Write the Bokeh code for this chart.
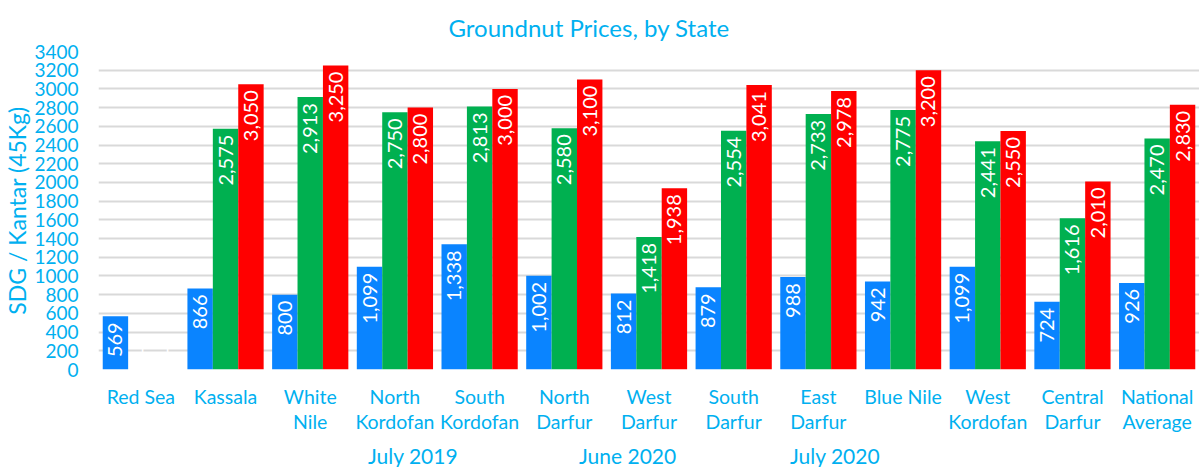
from math import pi
from bokeh.plotting import figure
from bokeh.layouts import column
from bokeh.models import ColumnDataSource, FactorRange, Range1d, Legend, LegendItem, SingleIntervalTicker
from bokeh.transform import dodge
from bokeh.core.properties import value
from bokeh.embed import file_html
from bokeh.resources import INLINE

states = ["Red Sea", "Kassala", "White\nNile", "North\nKordofan", "South\nKordofan",
          "North\nDarfur", "West\nDarfur", "South\nDarfur", "East\nDarfur", "Blue Nile",
          "West\nKordofan", "Central\nDarfur", "National\nAverage"]
series_names = ["July 2019", "June 2020", "July 2020"]
july_2019 = [569, 866, 800, 1099, 1338, 1002, 812, 879, 988, 942, 1099, 724, 926]
june_2020 = [0, 2575, 2913, 2750, 2813, 2580, 1418, 2554, 2733, 2775, 2441, 1616, 2470]
july_2020 = [0, 3050, 3250, 2800, 3000, 3100, 1938, 3041, 2978, 3200, 2550, 2010, 2830]
colors = ["#0a84ff", "#00b050", "#ff0000"]

CYAN = "#00b0f0"
FONT = value("Lato")

p = figure(frame_width=1101, frame_height=318,
           x_range=FactorRange(factors=states, range_padding=0),
           y_range=Range1d(0, 3400), output_backend="svg", toolbar_location=None,
           min_border_left=0, min_border_right=0, min_border_top=50, min_border_bottom=73)

p.title.text = "Groundnut Prices, by State"
p.title.align = "left"
p.title.offset = 350
p.title.text_font = "Lato"
p.title.text_font_size = "24px"
p.title.text_font_style = "normal"
p.title.text_color = CYAN
p.title.standoff = 20

p.outline_line_color = None
p.background_fill_color = "white"
p.xgrid.grid_line_color = None
p.ygrid.grid_line_color = "#d9d9d9"
p.ygrid.grid_line_width = 2

p.yaxis.ticker = SingleIntervalTicker(interval=200)
p.yaxis.axis_line_color = None
p.yaxis.major_tick_line_color = None
p.yaxis.minor_tick_line_color = None
p.yaxis.major_label_text_font = "Lato"
p.yaxis.major_label_text_font_size = "19px"
p.yaxis.major_label_text_color = CYAN
p.yaxis.major_label_standoff = 14
p.yaxis.axis_label = "SDG / Kantar (45Kg)"
p.yaxis.axis_label_text_font = "Lato"
p.yaxis.axis_label_text_font_size = "23px"
p.yaxis.axis_label_text_font_style = "normal"
p.yaxis.axis_label_text_color = CYAN
p.yaxis.axis_label_standoff = 0

p.xaxis.axis_line_color = None
p.xaxis.major_tick_line_color = None
p.xaxis.minor_tick_line_color = None
p.xaxis.major_label_text_font = "Lato"
p.xaxis.major_label_text_font_size = "19.5px"
p.xaxis.major_label_text_color = CYAN
p.xaxis.major_label_text_line_height = 1.1
p.xaxis.major_label_standoff = 9

# legend strip below the chart
lg = figure(width=1191, height=26, x_range=p.x_range, y_range=Range1d(-2, -1),
            x_axis_type=None, y_axis_type=None, output_backend="svg", toolbar_location=None,
            min_border_left=0, min_border_right=0, min_border_top=0, min_border_bottom=0)
lg.outline_line_color = None

offsets = [-0.3, 0.0, 0.3]
items = []
for name, vals, col, off in zip(series_names, [july_2019, june_2020, july_2020], colors, offsets):
    src = ColumnDataSource(dict(
        state=states, val=vals,
        lbl=[f"{v:,}" if v else "" for v in vals],
    ))
    p.vbar(x=dodge("state", off, range=p.x_range), top="val", width=0.3,
           source=src, fill_color=col, line_color=None)
    p.text(x=dodge("state", off, range=p.x_range), y="val", text="lbl", source=src,
           angle=pi / 2, text_align="right", text_baseline="middle", y_offset=6,
           text_color="white", text_font=FONT, text_font_size="20px")
    zsrc = ColumnDataSource(dict(
        state=[s for s, v in zip(states, vals) if not v],
        val=[v for v in vals if not v],
        lbl=["-" for v in vals if not v],
    ))
    p.text(x=dodge("state", off, range=p.x_range), y="val", text="lbl", source=zsrc,
           angle=pi / 2, text_align="left", text_baseline="middle", y_offset=-16,
           text_color="white", text_font=FONT, text_font_size="20px")
    # legend proxy glyph (no data, only supplies the swatch style)
    r = lg.vbar(x=[], top=[], width=0.3, fill_color=col, line_color=None)
    items.append(LegendItem(label=name, renderers=[r]))

legend = Legend(items=items, orientation="horizontal", location=(252, 0),
                label_text_font="Lato", label_text_font_size="21px", label_text_color=CYAN,
                glyph_width=13, glyph_height=13, spacing=39, label_width=154,
                border_line_color=None, background_fill_alpha=0, label_standoff=5)
legend.padding = 0
legend.margin = 0
lg.add_layout(legend, "center")

layout = column(p, lg, spacing=0)
open("out.html", "w").write(file_html(layout, INLINE))
